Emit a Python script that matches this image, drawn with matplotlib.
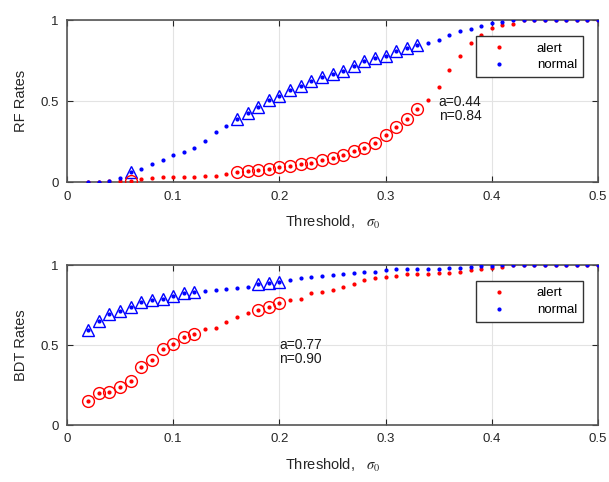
import numpy as np
import matplotlib
matplotlib.use('Agg')
import matplotlib.pyplot as plt

plt.rcParams['font.family'] = ['Liberation Sans', 'DejaVu Sans']
plt.rcParams['mathtext.fontset'] = 'stix'

threshold = [0.02, 0.03, 0.04, 0.05, 0.06, 0.07, 0.08, 0.09, 0.10, 0.11,
             0.12, 0.13, 0.14, 0.15, 0.16, 0.17, 0.18, 0.19, 0.20, 0.21,
             0.22, 0.23, 0.24, 0.25, 0.26, 0.27, 0.28, 0.29, 0.30, 0.31,
             0.32, 0.33, 0.34, 0.35, 0.36, 0.37, 0.38, 0.39, 0.40, 0.41,
             0.42, 0.43, 0.44, 0.45, 0.46, 0.47, 0.48, 0.49, 0.50]

rf_alert = [0.0, 0.0, 0.005, 0.01, 0.01, 0.02, 0.025, 0.03, 0.035, 0.035,
            0.035, 0.04, 0.04, 0.05, 0.06, 0.07, 0.075, 0.083, 0.095, 0.10,
            0.11, 0.12, 0.134, 0.15, 0.17, 0.19, 0.21, 0.24, 0.29, 0.34,
            0.39, 0.45, 0.51, 0.585, 0.69, 0.78, 0.86, 0.91, 0.95, 0.97,
            0.975, 1.0, 1.0, 1.0, 1.0, 1.0, 1.0, 1.0, 1.0]
rf_normal = [0.0, 0.0, 0.01, 0.027, 0.06, 0.08, 0.11, 0.134, 0.165, 0.185,
             0.214, 0.257, 0.307, 0.344, 0.39, 0.43, 0.465, 0.509, 0.535, 0.57,
             0.597, 0.623, 0.652, 0.665, 0.689, 0.718, 0.747, 0.768, 0.782, 0.809,
             0.83, 0.85, 0.858, 0.88, 0.91, 0.932, 0.949, 0.967, 0.981, 0.99,
             1.0, 1.0, 1.0, 1.0, 1.0, 1.0, 1.0, 1.0, 1.0]

bdt_alert = [0.152, 0.198, 0.208, 0.24, 0.277, 0.365, 0.406, 0.477, 0.506, 0.552,
             0.567, 0.598, 0.61, 0.646, 0.677, 0.698, 0.719, 0.74, 0.765, 0.785,
             0.79, 0.827, 0.835, 0.844, 0.865, 0.885, 0.906, 0.917, 0.923, 0.931,
             0.944, 0.944, 0.944, 0.948, 0.952, 0.956, 0.967, 0.977, 0.983, 0.99,
             1.0, 1.0, 1.0, 1.0, 1.0, 1.0, 1.0, 1.0, 1.0]
bdt_normal = [0.594, 0.652, 0.694, 0.714, 0.74, 0.767, 0.781, 0.79, 0.81, 0.827,
              0.835, 0.84, 0.844, 0.85, 0.854, 0.865, 0.885, 0.89, 0.896, 0.906,
              0.917, 0.923, 0.931, 0.9375, 0.944, 0.952, 0.956, 0.96, 0.969, 0.973,
              0.975, 0.975, 0.975, 0.977, 0.98, 0.985, 0.99, 0.993, 0.995, 1.0,
              1.0, 1.0, 1.0, 1.0, 1.0, 1.0, 1.0, 1.0, 1.0]

# thresholds that get the open markers
rf_marked = [0.06, 0.16, 0.17, 0.18, 0.19, 0.20, 0.21, 0.22, 0.23, 0.24, 0.25,
             0.26, 0.27, 0.28, 0.29, 0.30, 0.31, 0.32, 0.33]
bdt_marked = [0.02, 0.03, 0.04, 0.05, 0.06, 0.07, 0.08, 0.09, 0.10, 0.11, 0.12,
              0.18, 0.19, 0.20]

panels = [
    ('RF Rates', rf_alert, rf_normal, rf_marked, 'a=0.44\nn=0.84', (0.35, 0.45)),
    ('BDT Rates', bdt_alert, bdt_normal, bdt_marked, 'a=0.77\nn=0.90', (0.2, 0.46)),
]
boxes = [[0.110, 0.622, 0.872, 0.336], [0.110, 0.118, 0.872, 0.332]]

fig = plt.figure(figsize=(6.09, 4.82), dpi=100)
x = np.array(threshold)

for box, (ylab, alert, normal, marked, note, note_xy) in zip(boxes, panels):
    ax = fig.add_axes(box)
    alert = np.array(alert)
    normal = np.array(normal)
    m = np.isin(np.round(x, 2), np.round(marked, 2))

    ax.plot(x, alert, '.', color='r', ms=4, label='alert', zorder=3)
    ax.plot(x, normal, '.', color='b', ms=4, label='normal', zorder=3)
    ax.plot(x[m], normal[m], '^', color='b', ms=8.5, mfc='none', mew=1, zorder=4)
    ax.plot(x[m], alert[m], 'o', color='r', ms=8.5, mfc='none', mew=1, zorder=4)

    ax.set_xlim(0, 0.5)
    ax.set_ylim(0, 1)
    ax.set_xticks([0, 0.1, 0.2, 0.3, 0.4, 0.5])
    ax.set_xticklabels(['0', '0.1', '0.2', '0.3', '0.4', '0.5'])
    ax.set_yticks([0, 0.5, 1])
    ax.set_yticklabels(['0', '0.5', '1'])
    ax.grid(True, color='#e3e3e3', lw=0.8)
    ax.set_axisbelow(True)
    ax.tick_params(direction='in', top=True, right=True, length=4,
                   labelsize=9.5, colors='#262626', pad=6)
    for s in ax.spines.values():
        s.set_color('#555555')
        s.set_linewidth(1.2)

    ax.set_ylabel(ylab, fontsize=10.5, color='#262626', labelpad=9)
    ax.set_xlabel(r'Threshold,   $\sigma_0$', fontsize=10.5, color='#262626', labelpad=8)
    ax.text(note_xy[0], note_xy[1], note, fontsize=10, va='center', ha='left',
            color='#1a1a1a', linespacing=1.0)

    leg = ax.legend(loc='upper right', bbox_to_anchor=(0.972, 0.90), borderaxespad=0,
                    fontsize=9.5, fancybox=False, framealpha=1, edgecolor='#333333',
                    handletextpad=1.6, borderpad=0.45, labelspacing=0.35,
                    handlelength=2.6)
    leg.get_frame().set_linewidth(1.0)

fig.savefig('out.png', dpi=100)
